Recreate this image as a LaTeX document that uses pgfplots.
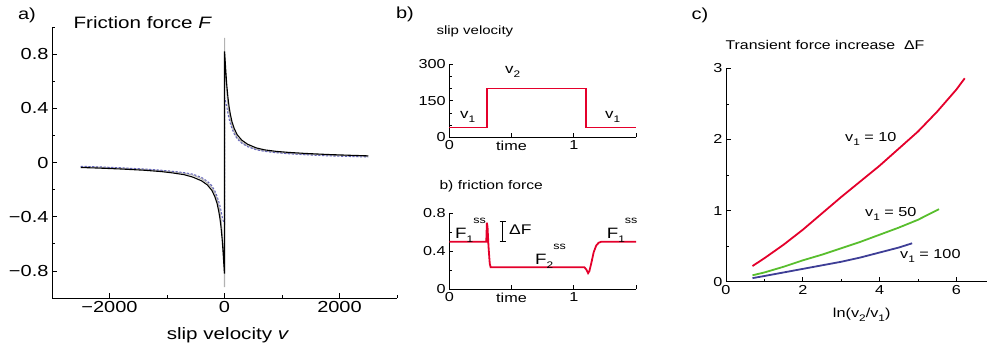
\documentclass[border=0pt]{standalone}
\usepackage{fontspec}
\setmainfont{Liberation Sans}[FakeStretch=1.25]
\usepackage{graphicx}
\usepackage{pgfplots}
\pgfplotsset{compat=1.18}
\definecolor{cred}{RGB}{228,0,43}
\definecolor{cgreen}{RGB}{88,190,45}
\definecolor{cblue}{RGB}{62,62,150}
\definecolor{cdash}{RGB}{100,100,185}
\newcommand\sub[1]{\raisebox{-4pt}{\fontsize{9.5}{9.5}\selectfont #1}}
\newcommand\ssup{\raisebox{15pt}{\fontsize{10}{10}\selectfont ss}}
\pgfplotsset{
  base/.style={scale only axis, axis x line*=bottom, axis y line*=left,
    axis line style={-, line width=0.8pt}, tick align=inside,
    major tick length=5pt, minor tick length=3pt,
    every tick/.style={black, line width=0.7pt},
    enlargelimits=false, clip=false, anchor=south west, scaled ticks=false},
}
\begin{document}
\begin{tikzpicture}
\path (0,0) rectangle (988pt,350pt);
% ---------------- panel a
\begin{axis}[base, at={(52pt,52pt)}, width=345pt, height=271pt,
  xmin=-3000, xmax=3000, ymin=-1, ymax=1,
  xtick={-2000,0,2000}, xticklabels={−2000,0,2000},
  minor xtick={-3000,-1000,1000,3000},
  ytick={-0.8,-0.4,0,0.4,0.8}, yticklabels={−0.8,−0.4,0,0.4,0.8},
  minor ytick={-1,-0.6,-0.2,0.2,0.6,1},
  ticklabel style={font=\fontsize{16}{16}\selectfont}]
\addplot[black!30, line width=1pt] coordinates {
(-2500,-0.031)(-2200,-0.035)(-1800,-0.042)(-1400,-0.051)(-1100,-0.060)(-900,-0.069)(-700,-0.080)(-550,-0.093)(-400,-0.120)(-300,-0.150)(-220,-0.185)(-170,-0.225)(-130,-0.270)(-100,-0.320)(-80,-0.360)(-60,-0.420)(-45,-0.490)(-30,-0.580)(-15,-0.700)(-5,-0.800)(0,-0.92)
(0,0.92)(5,0.80)(15,0.70)(30,0.58)(45,0.49)(60,0.42)(80,0.36)(100,0.32)(130,0.27)(170,0.225)(220,0.185)(300,0.150)(400,0.123)(550,0.098)(700,0.085)(900,0.075)(1100,0.068)(1400,0.061)(1800,0.054)(2200,0.049)(2500,0.045)};
\addplot[cdash, line width=1pt, dash pattern=on 2.2pt off 1.6pt] coordinates {
(-2500,-0.028)(-2200,-0.032)(-1800,-0.039)(-1400,-0.048)(-1100,-0.057)(-900,-0.065)(-700,-0.075)(-550,-0.086)(-400,-0.110)(-300,-0.138)(-220,-0.172)(-170,-0.208)(-130,-0.248)(-100,-0.288)(-80,-0.318)(-60,-0.356)(-45,-0.390)(-30,-0.420)(-15,-0.440)(0,-0.45)
(0,0.48)(15,0.46)(30,0.43)(45,0.40)(60,0.36)(80,0.32)(100,0.29)(130,0.25)(170,0.21)(220,0.175)(300,0.142)(400,0.117)(550,0.094)(700,0.082)(900,0.072)(1100,0.065)(1400,0.057)(1800,0.049)(2200,0.044)(2500,0.040)};
\addplot[black, line width=1.1pt] coordinates {
(-2500,-0.037)(-2200,-0.041)(-1800,-0.048)(-1400,-0.057)(-1100,-0.067)(-900,-0.077)(-700,-0.090)(-550,-0.108)(-400,-0.135)(-300,-0.165)(-220,-0.205)(-170,-0.250)(-130,-0.300)(-100,-0.360)(-80,-0.410)(-60,-0.480)(-40,-0.570)(-25,-0.660)(-10,-0.760)(0,-0.82)
(0,0.82)(10,0.76)(25,0.66)(40,0.57)(60,0.48)(80,0.41)(100,0.36)(130,0.30)(170,0.25)(220,0.205)(300,0.165)(400,0.135)(550,0.108)(700,0.093)(900,0.082)(1100,0.075)(1400,0.067)(1800,0.059)(2200,0.053)(2500,0.049)};
\end{axis}
\node[font=\fontsize{16}{16}\selectfont] at (27pt,335pt) {a)};
\node[anchor=west, font=\fontsize{16.5}{16.5}\selectfont] at (70pt,327pt) {Friction force \textit{F}};
\node[anchor=base, font=\fontsize{16.5}{16.5}\selectfont] at (228pt,10pt) {slip velocity \textit{v}};
% ---------------- panel b top
\begin{axis}[base, at={(449.3pt,212.7pt)}, width=186.7pt, height=73.3pt,
  xmin=0, xmax=1.5, ymin=0, ymax=300,
  xtick={0,0.5,1,1.5}, xticklabels={0,time,1,},
  ytick={0,150,300}, yticklabels={0,150,300}, minor ytick={50,100,200,250},
  major tick length=4pt, minor tick length=2.5pt,
  ticklabel style={font=\fontsize{13}{13}\selectfont}]
\addplot[cred, line width=1.8pt] coordinates {(0,40)(0.3,40)(0.3,200)(1.1,200)(1.1,40)(1.5,40)};
\end{axis}
\node[font=\fontsize{16}{16}\selectfont] at (405pt,336pt) {b)};
\node[anchor=west, font=\fontsize{12}{12}\selectfont] at (433pt,318.3pt) {slip velocity};
\node[anchor=base west, inner sep=0pt, font=\fontsize{13.5}{13.5}\selectfont] at (505pt,276.7pt) {v\sub{2}};
\node[anchor=base west, inner sep=0pt, font=\fontsize{13.5}{13.5}\selectfont] at (460pt,231pt) {v\sub{1}};
\node[anchor=base west, inner sep=0pt, font=\fontsize{13.5}{13.5}\selectfont] at (605pt,231pt) {v\sub{1}};
% ---------------- panel b bottom
\begin{axis}[base, at={(449.3pt,60.7pt)}, width=186.7pt, height=76pt,
  xmin=0, xmax=1.5, ymin=0, ymax=0.8,
  xtick={0,0.5,1,1.5}, xticklabels={0,time,1,},
  ytick={0,0.4,0.8}, yticklabels={0,0.4,0.8}, minor ytick={0.2,0.6},
  major tick length=4pt, minor tick length=2.5pt,
  ticklabel style={font=\fontsize{13}{13}\selectfont}]
\addplot[cred, line width=1.8pt] coordinates {(0,0.5)(0.297,0.5)(0.302,0.70)(0.307,0.66)(0.315,0.45)(0.325,0.27)(0.332,0.232)(1.085,0.232)(1.10,0.21)(1.115,0.17)(1.125,0.19)(1.14,0.27)(1.16,0.39)(1.18,0.46)(1.20,0.49)(1.22,0.5)(1.5,0.5)};
\end{axis}
\node[anchor=west, font=\fontsize{12.5}{12.5}\selectfont] at (436pt,163.3pt) {b) friction force};
\node[anchor=base west, inner sep=0pt, font=\fontsize{15}{15}\selectfont] at (455pt,111.7pt) {F\sub{1}\ssup};
\node[anchor=base west, inner sep=0pt, font=\fontsize{15}{15}\selectfont] at (535pt,85pt) {F\sub{2}\ssup};
\node[anchor=base west, inner sep=0pt, font=\fontsize{15}{15}\selectfont] at (606.7pt,111.7pt) {F\sub{1}\ssup};
\draw[line width=0.7pt] (499.7pt,128.3pt) -- (505.7pt,128.3pt) (502.7pt,128.3pt) -- (502.7pt,108.3pt) (499.7pt,108.3pt) -- (505.7pt,108.3pt);
\node[anchor=west, inner sep=0pt, font=\fontsize{14}{14}\selectfont] at (509pt,120pt) {ΔF};
% ---------------- panel c
\begin{axis}[base, at={(726pt,68.3pt)}, width=261pt, height=213.4pt,
  xmin=0, xmax=6.8, ymin=0, ymax=3,
  xtick={0,2,4,6}, minor xtick={1,3,5},
  ytick={0,1,2,3}, minor ytick={0.5,1.5,2.5},
  xticklabels={0,2,4,6}, yticklabels={0,1,2,3},
  ticklabel style={font=\fontsize{13}{13}\selectfont}]
\addplot[cred, line width=1.8pt] coordinates {(0.69,0.22)(1,0.33)(1.5,0.52)(2,0.73)(2.5,0.96)(3,1.19)(3.5,1.41)(4,1.63)(4.5,1.87)(5,2.11)(5.5,2.39)(6,2.70)(6.22,2.86)};
\addplot[cgreen, line width=1.8pt] coordinates {(0.69,0.09)(1,0.13)(1.5,0.21)(2,0.30)(2.5,0.38)(3,0.47)(3.5,0.56)(4,0.66)(4.5,0.76)(5,0.87)(5.55,1.02)};
\addplot[cblue, line width=1.8pt] coordinates {(0.69,0.05)(1,0.08)(1.5,0.13)(2,0.18)(2.5,0.23)(3,0.28)(3.5,0.34)(4,0.41)(4.5,0.48)(4.85,0.54)};
\end{axis}
\node[font=\fontsize{16}{16}\selectfont] at (700pt,335pt) {c)};
\node[anchor=west, font=\fontsize{12.7}{12.7}\selectfont] at (722pt,305pt) {Transient force increase \ ΔF};
\node[anchor=base west, inner sep=0pt, font=\fontsize{13}{13}\selectfont] at (845pt,208.3pt) {v\sub{1} = 10};
\node[anchor=base west, inner sep=0pt, font=\fontsize{13}{13}\selectfont] at (865pt,133.3pt) {v\sub{1} = 50};
\node[anchor=base west, inner sep=0pt, font=\fontsize{13}{13}\selectfont] at (900pt,91.7pt) {v\sub{1} = 100};
\node[anchor=base, font=\fontsize{13}{13}\selectfont] at (861.7pt,32pt) {ln(v\sub{2}/v\sub{1})};
\end{tikzpicture}
\end{document}
